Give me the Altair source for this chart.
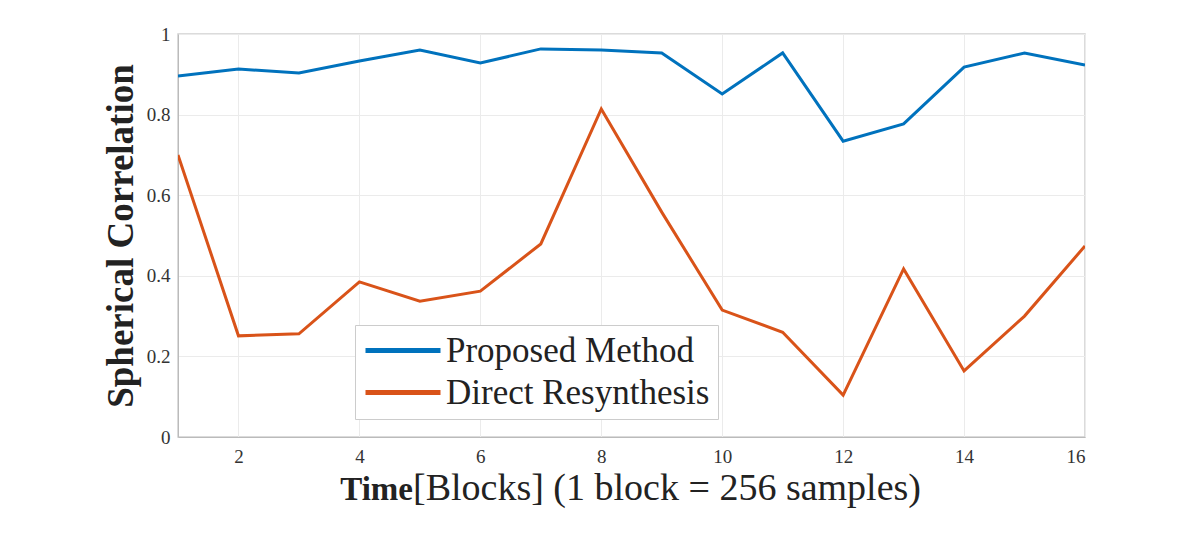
import pandas as pd
import altair as alt

# data
blocks = list(range(1, 17))
proposed = [0.896, 0.913, 0.903, 0.933, 0.960, 0.928, 0.963, 0.960,
            0.953, 0.851, 0.953, 0.734, 0.777, 0.918, 0.953, 0.923]
direct = [0.700, 0.251, 0.256, 0.385, 0.337, 0.362, 0.479, 0.814,
          0.558, 0.315, 0.260, 0.104, 0.417, 0.164, 0.300, 0.474]
series_names = ['Proposed Method', 'Direct Resynthesis']
series_colors = ['#0072BD', '#D95319']
x_ticks = [2, 4, 6, 8, 10, 12, 14, 16]
y_ticks = [0, 0.2, 0.4, 0.6, 0.8, 1]

df = pd.DataFrame({
    'block': blocks * 2,
    'value': proposed + direct,
    'series': [series_names[0]] * 16 + [series_names[1]] * 16,
})

FONT = 'Liberation Serif, Times New Roman, serif'
W, H = 907, 403

lines = alt.Chart(df).mark_line(strokeWidth=3, clip=True).encode(
    x=alt.X('block:Q', scale=alt.Scale(domain=[1, 16], nice=False),
            axis=alt.Axis(values=x_ticks, title=None, labelFontSize=19,
                          labelFont=FONT, labelPadding=10, grid=True)),
    y=alt.Y('value:Q', scale=alt.Scale(domain=[0, 1], nice=False),
            axis=alt.Axis(values=y_ticks, title='Spherical Correlation',
                          labelFontSize=19, labelFont=FONT, labelPadding=8,
                          labelExpr="datum.value == 0 ? '0' : datum.value == 1 ? '1' : format(datum.value, '.1f')",
                          titleFont=FONT, titleFontSize=37,
                          titleFontWeight='bold', titlePadding=6,
                          titleColor='#222')),
    color=alt.Color('series:N',
                    scale=alt.Scale(domain=series_names, range=series_colors),
                    legend=alt.Legend(title=None, orient='none',
                                      legendX=177, legendY=291,
                                      # long line swatch: path drawn from the left edge, 75px wide
                                      symbolType='M-1,0H4', symbolStrokeWidth=5,
                                      symbolSize=900, labelFontSize=35,
                                      labelFont=FONT, labelColor='#222',
                                      labelOffset=48, rowPadding=6,
                                      padding=8, strokeColor='#cccccc',
                                      fillColor='white', labelLimit=400)),
)

title_bold = alt.Chart().mark_text(
    text='Time', font=FONT, fontSize=33, fontWeight='bold',
    align='right', baseline='alphabetic', color='#222'
).encode(x=alt.value(235), y=alt.value(466))

title_rest = alt.Chart().mark_text(
    text='[Blocks] (1 block = 256 samples)', font=FONT, fontSize=38,
    align='left', baseline='alphabetic', color='#222'
).encode(x=alt.value(235), y=alt.value(466))

chart = alt.layer(lines, title_bold, title_rest).properties(
    width=W, height=H,
    autosize=alt.AutoSizeParams(type='none'),
    padding={'left': 170, 'top': 26, 'right': 100, 'bottom': 80},
).configure(
    font=FONT
).configure_axis(
    labelFont=FONT, titleFont=FONT, labelColor='#333',
    gridColor='#ebebeb', domainColor='#bbbbbb', tickColor='#bbbbbb',
    ticks=False,
).configure_legend(
    labelFont=FONT
).configure_view(
    stroke='#d0d0d0', strokeWidth=1.5
)

chart.save('out.html', embed_options={'renderer': 'svg', 'actions': False})
